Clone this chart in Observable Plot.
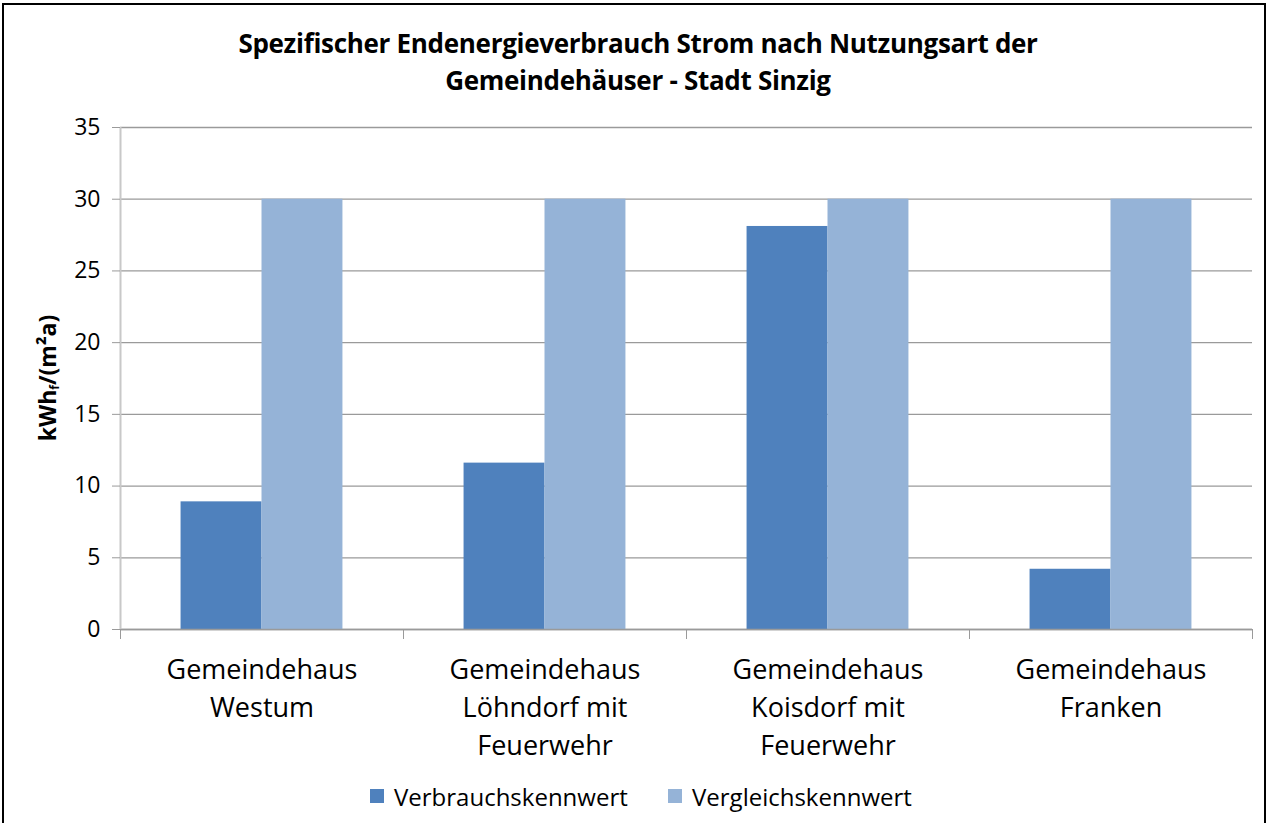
<!DOCTYPE html>
<html>
<head>
<meta charset="utf-8">
<script src="https://cdn.jsdelivr.net/npm/d3@7"></script>
<script src="https://cdn.jsdelivr.net/npm/@observablehq/plot@0.6"></script>
<style>
  html, body { margin: 0; padding: 0; background: #fff; width: 1272px; height: 823px; overflow: hidden; font-family: "Open Sans", sans-serif; }
  #frame { position: absolute; left: 2px; top: 3px; width: 1264px; height: 840px; border: 2px solid #000; box-sizing: border-box; }
  #title { position: absolute; left: 0; top: 25px; width: 1276px; text-align: center; font-weight: bold; font-size: 26px; line-height: 37px; color: #000; letter-spacing: -0.3px; }
  #chart { position: absolute; left: 0; top: 0; }
  #ylabel { position: absolute; left: 47px; top: 378px; transform: translate(-50%, -50%) rotate(-90deg); font-weight: bold; font-size: 23px; white-space: nowrap; color: #000; }
  #ylabel sub { font-size: 12px; vertical-align: -3px; }
  #legend { position: absolute; top: 782px; left: 0; width: 1272px; height: 28px; font-size: 24px; color: #000; }
  .item { position: absolute; display: flex; align-items: center; height: 28px; }
  .sw { width: 14px; height: 14px; margin-right: 10px; }
</style>
</head>
<body>
<div id="frame"></div>
<div id="title">Spezifischer Endenergieverbrauch Strom nach Nutzungsart der<br>Gemeindehäuser - Stadt Sinzig</div>
<div id="chart"></div>
<div id="ylabel">kWh<sub>f</sub>/(m²a)</div>
<div id="legend"></div>
<script>
const categories = [
  "Gemeindehaus\nWestum",
  "Gemeindehaus\nLöhndorf mit\nFeuerwehr",
  "Gemeindehaus\nKoisdorf mit\nFeuerwehr",
  "Gemeindehaus\nFranken"
];
const verbrauchskennwert = [8.9, 11.6, 28.1, 4.2];
const vergleichskennwert = [30, 30, 30, 30];
const seriesNames = ["Verbrauchskennwert", "Vergleichskennwert"];
const seriesColors = ["#4F81BD", "#95B3D7"];
const yTicks = [0, 5, 10, 15, 20, 25, 30, 35];

const barWidth = 0.286; // fraction of a category slot
const idx = categories.map((_, i) => i);
const rows = [];
categories.forEach((c, i) => {
  rows.push({i, series: seriesNames[0], value: verbrauchskennwert[i], x1: i - barWidth, x2: i});
  rows.push({i, series: seriesNames[1], value: vergleichskennwert[i], x1: i, x2: i + barWidth});
});
const boundaries = [-0.5, ...idx.map(i => i + 0.5)];
const grid = "#9a9a9a";

const chart = Plot.plot({
  width: 1272,
  height: 775,
  marginTop: 127,
  marginBottom: 146,
  marginLeft: 120,
  marginRight: 20,
  style: {fontFamily: "Open Sans, sans-serif", fontSize: "23px", color: "#000", background: "transparent"},
  x: {domain: [-0.5, categories.length - 0.5]},
  y: {domain: [0, 35]},
  color: {domain: seriesNames, range: seriesColors},
  marks: [
    Plot.gridY(yTicks, {stroke: grid, strokeOpacity: 1, strokeWidth: 1.3}),
    Plot.rectY(rows, {x1: "x1", x2: "x2", y1: 0, y2: "value", fill: "series"}),
    Plot.ruleY([0], {stroke: grid, strokeWidth: 1.3}),
    Plot.ruleX([-0.5], {y1: 0, y2: 35, stroke: "#c8c8c8", strokeWidth: 2}),
    Plot.axisY(yTicks, {tickSize: 8, tickPadding: 12, stroke: grid, fill: "#000", label: null, fontSize: 23}),
    Plot.axisX(boundaries, {tickSize: 10, tickFormat: () => "", stroke: grid, label: null}),
    Plot.axisX(idx, {tickSize: 0, tickPadding: 22, tickFormat: i => categories[i], lineHeight: 1.42, fontSize: 27, label: null})
  ]
});
document.getElementById("chart").appendChild(chart);

const legend = document.getElementById("legend");
const legendX = [370, 668];
seriesNames.forEach((name, k) => {
  const item = document.createElement("div");
  item.className = "item";
  item.style.left = legendX[k] + "px";
  item.innerHTML = `<div class="sw" style="background:${seriesColors[k]}"></div><span>${name}</span>`;
  legend.appendChild(item);
});
</script>
</body>
</html>
